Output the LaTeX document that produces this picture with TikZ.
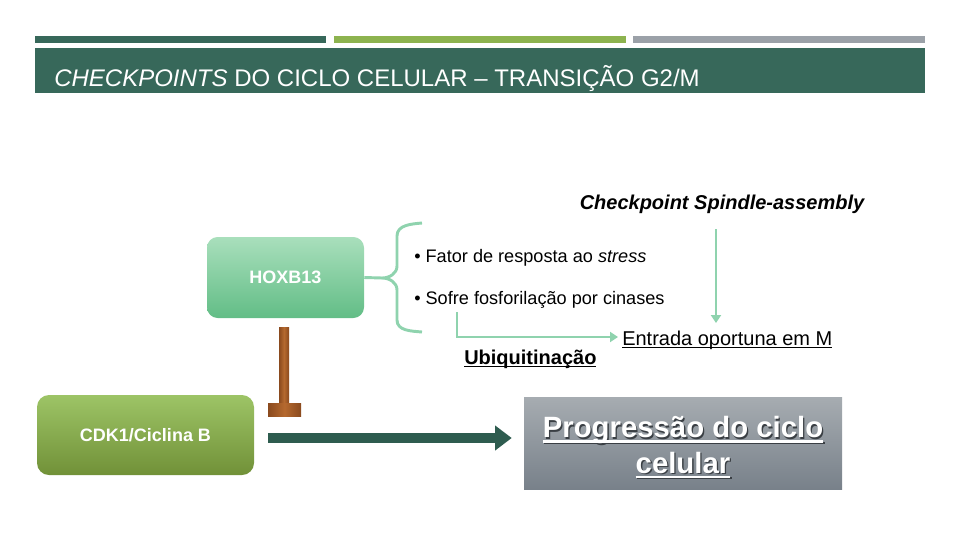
\documentclass[tikz,border=0pt]{standalone}
\usepackage{fontspec}
\setmainfont{Liberation Sans}
\usetikzlibrary{arrows.meta}

\definecolor{bandgreen}{HTML}{37685A}
\definecolor{leafgreen}{HTML}{8DB34F}
\definecolor{bargray}{HTML}{9BA1A8}
\definecolor{mint}{HTML}{8FD3AE}
\definecolor{hoxtop}{HTML}{A9DFBC}
\definecolor{hoxbot}{HTML}{62BD86}
\definecolor{cdktop}{HTML}{9DC466}
\definecolor{cdkbot}{HTML}{719138}
\definecolor{progtop}{HTML}{A6ACB1}
\definecolor{progbot}{HTML}{78818A}
\definecolor{barkbrown}{HTML}{8A4A1E}
\definecolor{lightbrown}{HTML}{B5692F}
\definecolor{arrowgreen}{HTML}{2E5C4F}
\definecolor{shadowgray}{HTML}{3A3F44}

% underline at a fixed depth
\newcommand{\undl}[1]{\setbox0\hbox{#1}\rlap{\rule[-0.16em]{\wd0}{0.075em}}\box0}
% white text with a small dark shadow
\newcommand{\shtext}[1]{\leavevmode\rlap{\kern1pt\raisebox{-1pt}{\color{shadowgray}#1}}#1}

\begin{document}
\begin{tikzpicture}[x=0.75pt, y=-0.75pt, >=Stealth,
    genebox/.style={rounded corners=8pt, text=white, font=\bfseries\fontsize{13.5}{16}\selectfont},
    mintline/.style={mint, line width=2.2pt},
    mintarrow/.style={mintline, -{Triangle[width=7.5pt, length=6pt]}},
    bigarrow/.style={arrowgreen, line width=7.5pt, -{Triangle[width=18pt, length=12.5pt]}},
    plaintext/.style={inner sep=0pt, font=\fontsize{13.6}{16}\selectfont}]
    \useasboundingbox (0,0) rectangle (960,540);

    % header bars and title band
    \fill[bandgreen] (35,36) rectangle (326,43);
    \fill[leafgreen] (334,36) rectangle (626,43);
    \fill[bargray] (633,36) rectangle (925,43);
    \fill[bandgreen] (35,48) rectangle (925,93);
    \node[anchor=base west, inner sep=0pt, text=white, font=\fontsize{18}{21}\selectfont] (title) at (54,86)
        {\textit{CHECKPOINTS} DO CICLO CELULAR – TRANSIÇÃO G2/M};

    % boxes
    \node[genebox, top color=hoxtop, bottom color=hoxbot, minimum width=117.75pt, minimum height=60.75pt] (hoxb) at (285.5,277.5) {HOXB13};
    \node[genebox, rounded corners=9pt, top color=cdktop, bottom color=cdkbot, minimum width=162.75pt, minimum height=60pt] (cdk) at (145.5,435) {CDK1/Ciclina B};
    \node[top color=progtop, bottom color=progbot, minimum width=238.5pt, minimum height=69pt] (prog) at (683,443) {};
    \node[text=white, align=center, inner sep=0pt, font=\bfseries\fontsize{22}{26.5}\selectfont] (progtext) at (683,448)
        {\shtext{\undl{Progressão do ciclo}}\\\shtext{\undl{celular}}};

    % texts
    \node[font=\bfseries\itshape\fontsize{15}{18}\selectfont, inner sep=0pt] (spindle) at (722,204) {Checkpoint Spindle-assembly};
    \node[plaintext, anchor=west] (fator) at (414,258) {• Fator de resposta ao \textit{stress}};
    \node[plaintext, anchor=west] (sofre) at (414,300) {• Sofre fosforilação por cinases};
    \node[plaintext, anchor=base west, font=\fontsize{15}{18}\selectfont] (entrada) at (622,345) {\undl{Entrada oportuna em M}};
    \node[plaintext, anchor=base west, font=\bfseries\fontsize{15}{18}\selectfont] (ubiq) at (464,364) {\undl{Ubiquitinação}};

    % brace from HOXB13
    \coordinate (bracetip) at (382,278);
    \draw[mintline] (hoxb.east) -- (bracetip);
    \draw[mintline, line join=round] (422,223) to[out=185, in=90] (397,236) -- (397,266)
        to[out=-90, in=0] (bracetip) to[out=0, in=90] (397,290) -- (397,320)
        to[out=-90, in=175] (422,332);

    % mint arrows
    \coordinate (spindletop) at (716,229);
    \coordinate (spindleend) at (716,323);
    \draw[mintarrow] (spindletop) -- (spindleend);
    \coordinate (sofrefoot) at (457,312);
    \coordinate (entradatip) at (618,337);
    \draw[mintarrow] (sofrefoot) |- (entradatip);

    % inhibition bar under HOXB13
    \fill[left color=barkbrown, right color=barkbrown, middle color=lightbrown] (279,327) rectangle (289,403);
    \fill[left color=barkbrown, right color=barkbrown, middle color=lightbrown] (268,403) rectangle (301,416);

    % CDK1 drives progression
    \coordinate (cdkout) at (268,438);
    \draw[bigarrow, shorten >=9pt] (cdkout) -- (cdkout -| prog.west);
\end{tikzpicture}
\end{document}
